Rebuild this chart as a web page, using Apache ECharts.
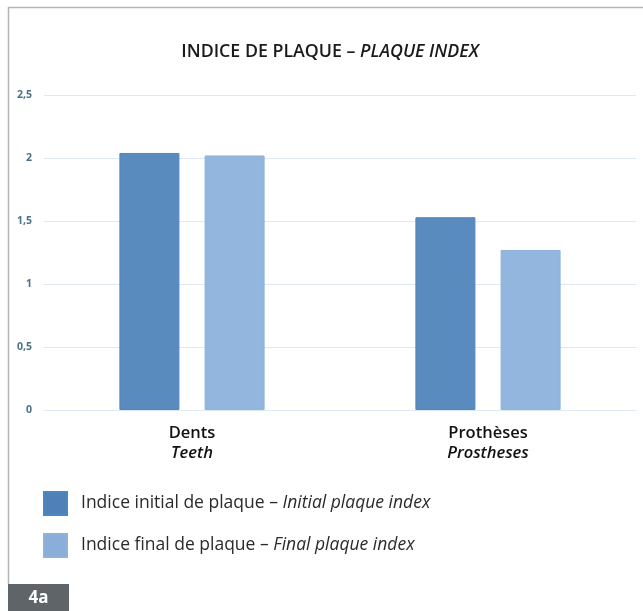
<!DOCTYPE html>
<html>
<head>
<meta charset="utf-8">
<style>
  html, body { margin: 0; padding: 0; background: #ffffff; }
  #chart { width: 643px; height: 611px; }
</style>
<script src="https://cdn.jsdelivr.net/npm/echarts@6/dist/echarts.min.js"></script>
</head>
<body>
<div id="chart"></div>
<script>
// Categories (French name / English name)
const categoriesFr = ['Dents', 'Prothèses'];
const categoriesEn = ['Teeth', 'Prostheses'];

// Plaque index values
const initialIndex = [2.04, 1.53];
const finalIndex = [2.02, 1.27];

// Series names (French / English)
const seriesFr = ['Indice initial de plaque', 'Indice final de plaque'];
const seriesEn = ['Initial plaque index', 'Final plaque index'];

const FONT = '"Open Sans", "DejaVu Sans", sans-serif';
const colInitial = '#5a8bbf';
const colFinal = '#93b6de';

const chart = echarts.init(document.getElementById('chart'), null, { renderer: 'canvas' });

const categories = categoriesFr.map((fr, i) => fr + '|' + categoriesEn[i]);
const legendNames = seriesFr.map((fr, i) => fr + '|' + seriesEn[i]);

chart.setOption({
  animation: false,
  backgroundColor: '#ffffff',
  legend: {
    orient: 'vertical',
    left: 43,
    top: 491,
    padding: 0,
    itemWidth: 23,
    itemHeight: 23,
    itemGap: 17,
    icon: 'rect',
    selectedMode: false,
    data: [
      { name: legendNames[0], itemStyle: { color: '#4f80b7' } },
      { name: legendNames[1], itemStyle: { color: '#8badd9' } }
    ],
    formatter: function (name) {
      const p = name.split('|');
      return '{a|' + p[0] + ' – }{b|' + p[1] + '}';
    },
    textStyle: {
      padding: [0, 0, 0, 9],
      rich: {
        a: { fontFamily: FONT, fontSize: 17.5, color: '#2a2a2a' },
        b: { fontFamily: FONT, fontSize: 17.5, fontStyle: 'italic', color: '#2a2a2a' }
      }
    }
  },
  grid: { left: 44, right: 7, top: 95, bottom: 201, containLabel: false },
  xAxis: {
    type: 'category',
    data: categories,
    axisLine: { show: true, lineStyle: { color: '#dde9f4', width: 1 } },
    axisTick: { show: false },
    axisLabel: {
      margin: 13,
      formatter: function (v) {
        const p = v.split('|');
        return '{a|' + p[0] + '}\n{b|' + p[1] + '}';
      },
      rich: {
        a: { fontFamily: FONT, fontSize: 16.5, fontWeight: 600, color: '#111111', lineHeight: 20, align: 'center' },
        b: { fontFamily: FONT, fontSize: 16.5, fontWeight: 600, fontStyle: 'italic', color: '#111111', lineHeight: 20, align: 'center' }
      }
    }
  },
  yAxis: {
    type: 'value',
    min: 0,
    max: 2.5,
    interval: 0.5,
    axisLine: { show: false },
    axisTick: { show: false },
    splitLine: { show: true, lineStyle: { color: '#dde9f4', width: 1 } },
    axisLabel: {
      margin: 12,
      fontFamily: FONT,
      fontSize: 10.5,
      fontWeight: 'bold',
      color: '#4a7186',
      formatter: function (v) { return String(v).replace('.', ','); }
    }
  },
  series: [
    {
      name: legendNames[0],
      type: 'bar',
      data: initialIndex,
      barWidth: 60,
      barGap: '42%',
      itemStyle: { color: colInitial, borderColor: '#4f86bd', borderWidth: 1 }
    },
    {
      name: legendNames[1],
      type: 'bar',
      data: finalIndex,
      barWidth: 60,
      itemStyle: { color: colFinal, borderColor: '#8db2dc', borderWidth: 1 }
    }
  ],
  graphic: [
    // chart heading
    {
      type: 'text', x: 330, y: 52,
      style: {
        text: '{a|INDICE DE PLAQUE – }{b|PLAQUE INDEX}',
        align: 'center', verticalAlign: 'middle',
        rich: {
          a: { fontFamily: FONT, fontSize: 17.8, fontWeight: 600, fill: '#1a1a1a' },
          b: { fontFamily: FONT, fontSize: 17.8, fontWeight: 600, fontStyle: 'italic', fill: '#1a1a1a' }
        }
      }
    },
    // frame lines along the top and left side
    { type: 'line', shape: { x1: 8, y1: 7.5, x2: 643, y2: 7.5 }, style: { stroke: '#b4b4b4', lineWidth: 1.5 } },
    { type: 'line', shape: { x1: 8.5, y1: 7, x2: 8.5, y2: 584 }, style: { stroke: '#b4b4b4', lineWidth: 1.5 } },
    // figure tag
    { type: 'rect', shape: { x: 8, y: 584, width: 61, height: 27 }, style: { fill: '#5f6468' } },
    {
      type: 'text', x: 38.5, y: 598,
      style: {
        text: '4a', fill: '#ffffff', fontFamily: FONT, fontSize: 17, fontWeight: 'bold',
        align: 'center', verticalAlign: 'middle'
      }
    }
  ]
});
</script>
</body>
</html>
